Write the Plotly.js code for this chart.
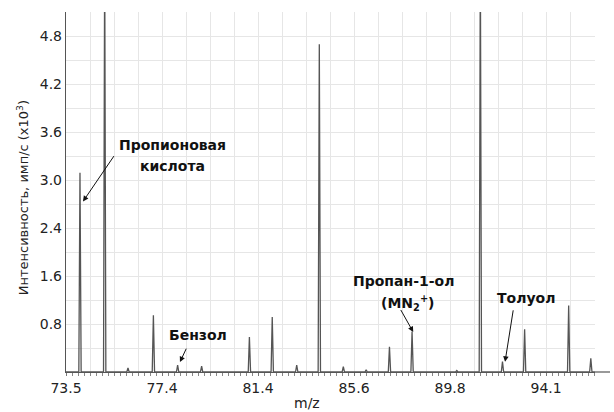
<!DOCTYPE html>
<html><head><meta charset="utf-8">
<script src="https://cdn.plot.ly/plotly-3.0.1.min.js"></script>
<style>body{margin:0;background:#fff}#c{width:614px;height:412px}</style>
</head><body><div id="c"></div>
<script>
// Peak positions (m/z, on the chart's evenly spaced scale) and intensities (x10^3)
const peakMz = [74.10, 75.16, 76.16, 77.25, 78.29, 79.32, 81.37, 82.35, 83.40, 84.37, 85.40, 86.38, 87.38, 88.35, 90.27, 91.28, 92.23, 93.18, 95.07, 96.02];
const peakInt = [2.85, 6.0, 0.06, 0.81, 0.10, 0.085, 0.50, 0.785, 0.10, 4.69, 0.075, 0.03, 0.36, 0.58, 0.02, 6.0, 0.15, 0.61, 0.95, 0.195];
const xTickLabels = ["73.5", "77.4", "81.4", "85.6", "89.8", "94.1"];
const yTickLabels = ["0.8", "1.6", "2.4", "3.0", "3.6", "4.2", "4.8"];

const halfWidth = 0.05;
const xs = [73.5], ys = [0];
peakMz.forEach((m, i) => { xs.push(m - halfWidth, m, m + halfWidth); ys.push(0, peakInt[i], 0); });
xs.push(96.2); ys.push(0);

const xStep = 1.03, yStep = 4.8 / 14;
const xLabelVals = xTickLabels.map((_, k) => 73.5 + 4 * k * xStep);
const yLabelVals = yTickLabels.map((_, k) => 2 * (k + 1) * yStep);

const fontFam = "DejaVu Sans, Arial, sans-serif";
const boldFont = {family: fontFam, size: 14, color: "#111", weight: "bold"};
const lbl = (text, x, y) => ({text, x, y, xref: "x", yref: "y", showarrow: false,
  font: boldFont, xanchor: "center", yanchor: "middle"});
const arr = (x, y, ax, ay) => ({text: "", x, y, ax, ay, xref: "x", yref: "y", axref: "x", ayref: "y",
  showarrow: true, arrowhead: 2, arrowsize: 1.1, arrowwidth: 1, arrowcolor: "#111", standoff: 0, startstandoff: 0});

const layout = {
  width: 614, height: 412,
  margin: {l: 66, r: 19, t: 12, b: 40},
  paper_bgcolor: "#fff", plot_bgcolor: "#fff",
  showlegend: false,
  xaxis: {range: [73.5, 96.2], tickmode: "array", tickvals: xLabelVals, ticktext: xTickLabels,
    showgrid: false, zeroline: false,
    showline: true, linecolor: "#555", linewidth: 1.2,
    ticks: "outside", ticklen: 3, tickcolor: "#777",
    minor: {tickmode: "linear", tick0: 73.5, dtick: xStep / 4, ticks: "outside", ticklen: 3, tickcolor: "#888", showgrid: false},
    tickfont: {family: fontFam, size: 14, color: "#222"}},
  xaxis2: {range: [73.5, 96.2], overlaying: "x", anchor: "y", side: "bottom", tickmode: "linear", tick0: 73.5, dtick: xStep,
    showgrid: true, gridcolor: "#e6e6e6", gridwidth: 1, showticklabels: false, ticks: "", zeroline: false, showline: false, layer: "below traces"},
  yaxis: {range: [0, 5.15], tickmode: "array", tickvals: yLabelVals, ticktext: yTickLabels,
    showgrid: true, gridcolor: "#e6e6e6", gridwidth: 1, zeroline: false,
    minor: {tickmode: "linear", tick0: 0, dtick: yStep, showgrid: true, gridcolor: "#e6e6e6", ticks: ""},
    showline: true, linecolor: "#555", linewidth: 1.2, ticks: "",
    tickfont: {family: fontFam, size: 14, color: "#222"}},
  shapes: [{type: "line", xref: "paper", yref: "paper", x0: 1, x1: 1.0284, y0: 0, y1: 0, line: {color: "#555", width: 1.2}}],
  annotations: [
    {text: "Интенсивность, имп/с (x10<sup>3</sup>)", xref: "paper", yref: "paper", x: -0.081, y: 0.483,
      textangle: -90, showarrow: false, font: {family: fontFam, size: 13, color: "#222"}, xanchor: "center", yanchor: "middle"},
    {text: "m/z", xref: "paper", yref: "paper", x: 0.455, y: -0.086, showarrow: false,
      font: {family: fontFam, size: 14, color: "#222"}, xanchor: "center", yanchor: "middle"},
    lbl("Пропионовая", 78.05, 3.25), lbl("кислота", 78.05, 2.95),
    lbl("Бензол", 79.17, 0.525),
    lbl("Пропан-1-ол", 88.0, 1.306), lbl("(MN<sub>2</sub><sup>+</sup>)", 88.18, 0.99),
    lbl("Толуол", 93.24, 1.065),
    arr(74.23, 2.44, 75.60, 3.11),
    arr(78.39, 0.142, 78.69, 0.355),
    arr(88.40, 0.572, 87.83, 0.909),
    arr(92.34, 0.146, 92.70, 0.904)
  ]
};

Plotly.newPlot("c", [
  {x: [73.5, 96.2], y: [0, 0], xaxis: "x2", type: "scatter", mode: "lines", line: {width: 0}, hoverinfo: "skip"},
  {x: xs, y: ys, type: "scatter", mode: "lines", line: {color: "#555", width: 1.3}, hoverinfo: "skip"}
], layout, {staticPlot: true, displayModeBar: false});
</script></body></html>
